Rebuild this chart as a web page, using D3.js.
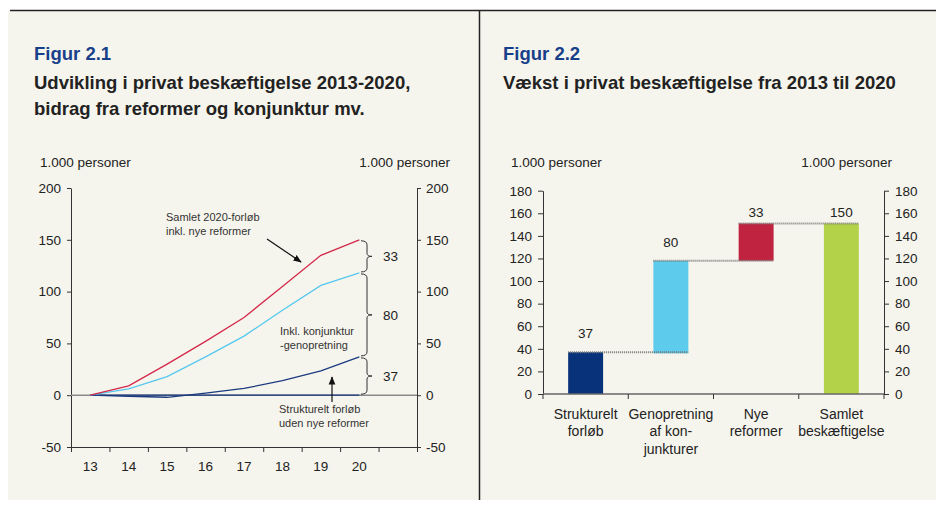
<!DOCTYPE html>
<html>
<head>
<meta charset="utf-8">
<script src="https://cdn.jsdelivr.net/npm/d3@7/dist/d3.min.js"></script>
<style>
  body { margin: 0; background: #fff; }
  svg { display: block; font-family: "Liberation Sans", Arial, sans-serif; }
  .axis path, .axis line { stroke: #333; }
  .axis text { fill: #222; font-size: 13.5px; font-family: "Liberation Sans", Arial, sans-serif; }
</style>
</head>
<body>
<script>
// figur 2.1 data
var years = [13, 14, 15, 16, 17, 18, 19, 20];
var samlet = [0, 9, 30, 52, 75, 105, 135, 150];
var konjunktur = [0, 6, 18, 37, 57, 82, 106, 118];
var strukturelt = [0, -1, -2, 2, 6.5, 14, 23.5, 37];
var nulLinje = [0, 0, 0, 0, 0, 0, 0, 0];
var braceValues = [33, 80, 37];
var leftTicks = [-50, 0, 50, 100, 150, 200];

// figur 2.2 data
var categories = [["Strukturelt", "forløb"], ["Genopretning", "af kon-", "junkturer"], ["Nye", "reformer"], ["Samlet", "beskæftigelse"]];
var barLow = [0, 36, 118, 0];
var barHigh = [37, 118, 151, 151];
var barLabels = [37, 80, 33, 150];
var barColors = ["#08337a", "#5ccbec", "#c0233f", "#b3d24a"];
var rightTicks = [0, 20, 40, 60, 80, 100, 120, 140, 160, 180];

var W = 936, H = 506;
var svg = d3.select("body").append("svg").attr("width", W).attr("height", H);
var plain = function(d) { return String(d); };

svg.append("rect").attr("x", 8).attr("y", 10).attr("width", W - 8).attr("height", 490).attr("fill", "#f6f5ed");
svg.append("line").attr("x1", 10).attr("x2", W).attr("y1", 10.5).attr("y2", 10.5).attr("stroke", "#222").attr("stroke-width", 1.5);
svg.append("line").attr("x1", 479.5).attr("x2", 479.5).attr("y1", 10).attr("y2", 500).attr("stroke", "#222").attr("stroke-width", 1.5);

function titles(x, fig, lines) {
  svg.append("text").attr("x", x).attr("y", 60).attr("fill", "#173f8a")
    .attr("font-size", 18.5).attr("font-weight", "bold").text(fig);
  lines.forEach(function(t, i) {
    svg.append("text").attr("x", x).attr("y", 89 + i * 26).attr("fill", "#222")
      .attr("font-size", 18.5).attr("font-weight", "bold").text(t);
  });
}
titles(34, "Figur 2.1", ["Udvikling i privat beskæftigelse 2013-2020,", "bidrag fra reformer og konjunktur mv."]);
titles(503, "Figur 2.2", ["Vækst i privat beskæftigelse fra 2013 til 2020"]);

function unitLabel(x, anchor) {
  svg.append("text").attr("x", x).attr("y", 166.5).attr("text-anchor", anchor)
    .attr("font-size", 13.5).attr("fill", "#222").text("1.000 personer");
}

// ---------- Figur 2.1 ----------
var xL = d3.scaleLinear().domain([12.5, 21.5]).range([71, 417]);
var yL = d3.scaleLinear().domain([-50, 200]).range([447, 188]);
unitLabel(40, "start");
unitLabel(450, "end");

svg.append("g").attr("class", "axis").attr("transform", "translate(71,0)")
  .call(d3.axisLeft(yL).tickValues(leftTicks).tickFormat(plain).tickSize(4).tickPadding(6).tickSizeOuter(0));
svg.append("g").attr("class", "axis").attr("transform", "translate(417,0)")
  .call(d3.axisRight(yL).tickValues(leftTicks).tickFormat(plain).tickSize(4).tickPadding(5).tickSizeOuter(0));
svg.append("g").attr("class", "axis").attr("transform", "translate(0,447)")
  .call(d3.axisBottom(xL).tickValues(d3.range(12.5, 21.6, 1)).tickSize(5).tickFormat("").tickSizeOuter(0));
svg.append("g").selectAll("text").data(years).enter().append("text")
  .attr("x", function(d) { return xL(d); }).attr("y", 470.5).attr("text-anchor", "middle")
  .attr("font-size", 13.5).attr("fill", "#222").text(function(d) { return d; });

svg.append("line").attr("x1", 71).attr("x2", 417).attr("y1", yL(0)).attr("y2", yL(0))
  .attr("stroke", "#8a8a8a").attr("stroke-width", 1.5);

var line = d3.line().x(function(d, i) { return xL(years[i]); }).y(function(d) { return yL(d); });
[[nulLinje, "#1b3a80"], [strukturelt, "#1b3a80"], [konjunktur, "#56c8ef"], [samlet, "#d3284a"]].forEach(function(s) {
  svg.append("path").datum(s[0]).attr("d", line).attr("fill", "none")
    .attr("stroke", s[1]).attr("stroke-width", 1.3);
});

// braces
var last = years.length - 1;
var braceBounds = [[samlet[last], konjunktur[last]], [konjunktur[last], strukturelt[last]], [strukturelt[last], 0]];
function bracePath(x0, y1, y2) {
  var xm = x0 + 6, xt = x0 + 11, ym = (y1 + y2) / 2;
  return "M" + x0 + "," + y1 + "Q" + xm + "," + y1 + " " + xm + "," + (y1 + 4) +
    "L" + xm + "," + (ym - 3) + "Q" + xm + "," + ym + " " + xt + "," + ym +
    "Q" + xm + "," + ym + " " + xm + "," + (ym + 3) +
    "L" + xm + "," + (y2 - 4) + "Q" + xm + "," + y2 + " " + x0 + "," + y2;
}
braceBounds.forEach(function(b, i) {
  var y1 = yL(b[0]) + 1, y2 = yL(b[1]) - 1;
  svg.append("path").attr("d", bracePath(361, y1, y2)).attr("fill", "none")
    .attr("stroke", "#333").attr("stroke-width", 1);
  svg.append("text").attr("x", 383).attr("y", (y1 + y2) / 2 + 5).attr("font-size", 13.5)
    .attr("fill", "#222").text(braceValues[i]);
});

// annotations
svg.append("defs").append("marker").attr("id", "arr").attr("viewBox", "0 0 10 10")
  .attr("refX", 9).attr("refY", 5).attr("markerWidth", 7).attr("markerHeight", 7)
  .attr("orient", "auto").append("path").attr("d", "M0,1L10,5L0,9Z").attr("fill", "#111");
function note(x, y, lines) {
  lines.forEach(function(t, i) {
    svg.append("text").attr("x", x).attr("y", y + i * 14).attr("font-size", 11)
      .attr("fill", "#333").text(t);
  });
}
note(166, 221, ["Samlet 2020-forløb", "inkl. nye reformer"]);
note(280, 335, ["Inkl. konjunktur", "-genopretning"]);
note(279, 413, ["Strukturelt forløb", "uden nye reformer"]);
svg.append("line").attr("x1", 267).attr("y1", 239).attr("x2", 301).attr("y2", 262)
  .attr("stroke", "#111").attr("stroke-width", 1.2).attr("marker-end", "url(#arr)");
svg.append("line").attr("x1", 332).attr("y1", 402).attr("x2", 332).attr("y2", 377)
  .attr("stroke", "#111").attr("stroke-width", 1.2).attr("marker-end", "url(#arr)");

// ---------- Figur 2.2 ----------
var keys = categories.map(function(c) { return c.join(" "); });
var xR = d3.scaleBand().domain(keys).range([543, 884]).paddingInner(0.59).paddingOuter(0.295);
var yR = d3.scaleLinear().domain([0, 180]).range([394, 190.7]);
unitLabel(511, "start");
unitLabel(892, "end");

svg.append("g").attr("class", "axis").attr("transform", "translate(543,0)")
  .call(d3.axisLeft(yR).tickValues(rightTicks).tickFormat(plain).tickSize(5).tickPadding(6).tickSizeOuter(0));
svg.append("g").attr("class", "axis").attr("transform", "translate(884,0)")
  .call(d3.axisRight(yR).tickValues(rightTicks).tickFormat(plain).tickSize(5).tickPadding(6).tickSizeOuter(0));

svg.append("g").selectAll("rect").data(keys).enter().append("rect")
  .attr("x", function(d) { return xR(d); })
  .attr("width", xR.bandwidth())
  .attr("y", function(d, i) { return yR(barHigh[i]); })
  .attr("height", function(d, i) { return yR(barLow[i]) - yR(barHigh[i]); })
  .attr("fill", function(d, i) { return barColors[i]; });

// x axis at zero with ticks on band edges
var step = xR.step();
var edges = d3.range(keys.length + 1).map(function(i) { return 543 + i * step; });
svg.append("line").attr("x1", 543).attr("x2", 884).attr("y1", yR(0)).attr("y2", yR(0))
  .attr("stroke", "#666").attr("stroke-width", 1.5);
svg.append("g").selectAll("line").data(edges).enter().append("line")
  .attr("x1", function(d) { return d; }).attr("x2", function(d) { return d; })
  .attr("y1", yR(0)).attr("y2", yR(0) + 5).attr("stroke", "#333");

// connectors
for (var i = 0; i < keys.length - 1; i++) {
  svg.append("line").attr("x1", xR(keys[i])).attr("x2", xR(keys[i + 1]) + xR.bandwidth())
    .attr("y1", yR(barHigh[i])).attr("y2", yR(barHigh[i]))
    .attr("stroke", "#777").attr("stroke-width", 2).attr("stroke-dasharray", "1,1");
}

svg.append("g").selectAll("text").data(keys).enter().append("text")
  .attr("x", function(d) { return xR(d) + xR.bandwidth() / 2; })
  .attr("y", function(d, i) { return yR(barHigh[i]) - (i < 2 ? 14 : 6); })
  .attr("text-anchor", "middle").attr("font-size", 13.5).attr("fill", "#222")
  .text(function(d, i) { return barLabels[i]; });

categories.forEach(function(c, i) {
  c.forEach(function(t, j) {
    svg.append("text").attr("x", xR(keys[i]) + xR.bandwidth() / 2).attr("y", 419 + j * 17.3)
      .attr("text-anchor", "middle").attr("font-size", 14).attr("fill", "#222").text(t);
  });
});
</script>
</body>
</html>
